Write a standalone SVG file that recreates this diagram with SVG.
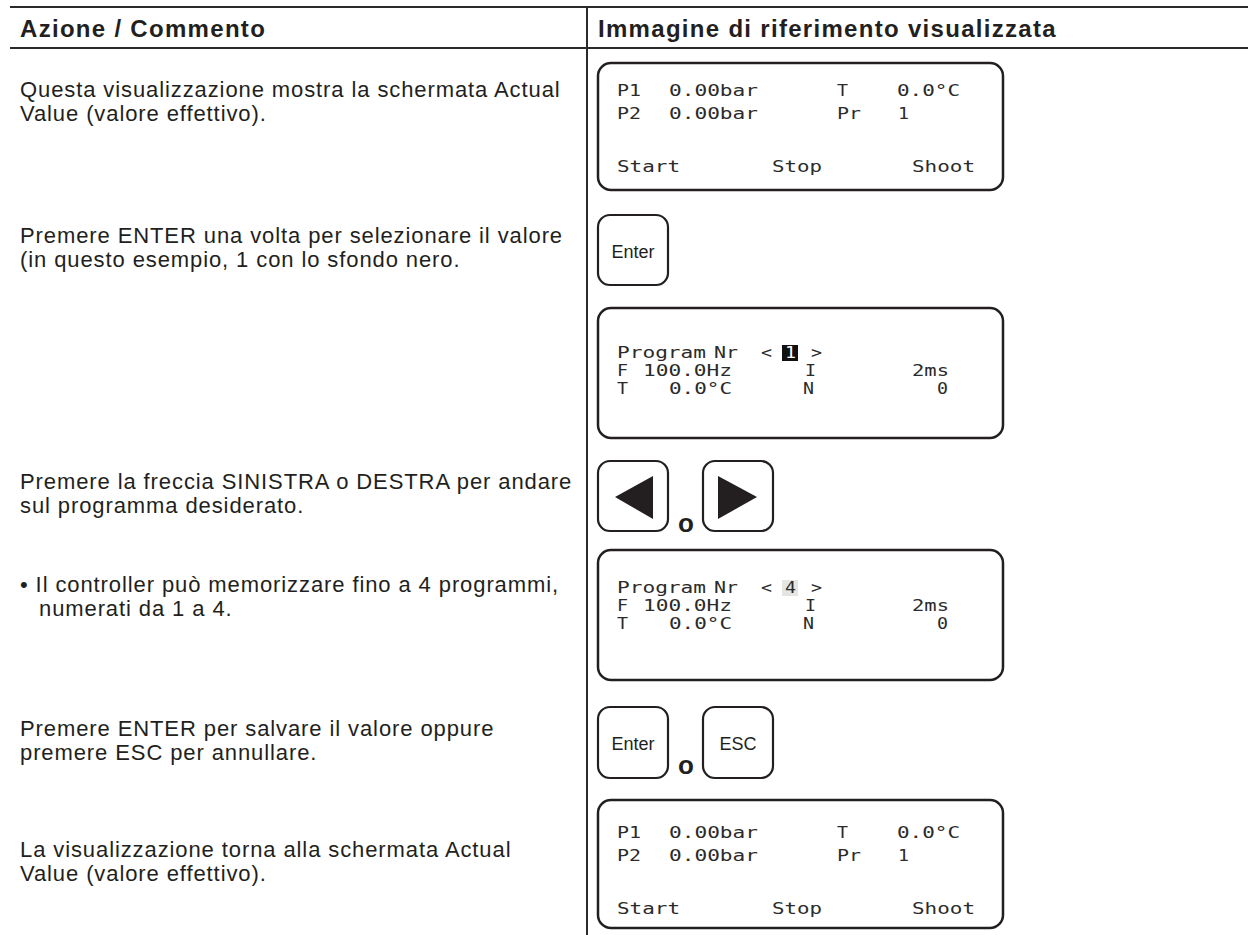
<svg xmlns="http://www.w3.org/2000/svg" width="1248" height="935" viewBox="0 0 1248 935">
  <style>
    .rule { stroke: #2b2b2b; stroke-width: 2; fill: none; }
    .head { font-family: "Liberation Sans", Arial, sans-serif; font-weight: bold; font-size: 24px; letter-spacing: 1.3px; fill: #231f20; }
    .body { font-family: "Liberation Sans", Arial, sans-serif; font-size: 22px; letter-spacing: 0.9px; fill: #231f20; }
    .lcd-frame { fill: #ffffff; stroke: #231f20; stroke-width: 2.5; }
    .key { fill: #ffffff; stroke: #231f20; stroke-width: 2.2; }
    .lcd { font-family: "DejaVu Sans Mono", "Liberation Mono", monospace; font-size: 15px; fill: #2b2b2b; }
    .keytxt { font-family: "Liberation Sans", Arial, sans-serif; font-size: 18px; fill: #231f20; text-anchor: middle; }
    .or { font-family: "Liberation Sans", Arial, sans-serif; font-weight: bold; font-size: 26px; fill: #231f20; text-anchor: middle; }
    .tri { fill: #231f20; }
  </style>

  <!-- table rules -->
  <g id="table">
    <line class="rule" x1="10" y1="7" x2="1248" y2="7"/>
    <line class="rule" x1="10" y1="48" x2="1248" y2="48"/>
    <line class="rule" x1="587" y1="7" x2="587" y2="935"/>
    <text class="head" x="20" y="37">Azione / Commento</text>
    <text class="head" x="598" y="37">Immagine di riferimento visualizzata</text>
  </g>

  <!-- left column: action / comment texts -->
  <g id="comments">
    <text class="body" x="20" y="97">Questa visualizzazione mostra la schermata Actual</text>
    <text class="body" x="20" y="121">Value (valore effettivo).</text>

    <text class="body" x="20" y="243">Premere ENTER una volta per selezionare il valore</text>
    <text class="body" x="20" y="267">(in questo esempio, 1 con lo sfondo nero.</text>

    <text class="body" x="20" y="489">Premere la freccia SINISTRA o DESTRA per andare</text>
    <text class="body" x="20" y="513">sul programma desiderato.</text>

    <text class="body" x="20" y="592">• Il controller può memorizzare fino a 4 programmi,</text>
    <text class="body" x="39" y="616">numerati da 1 a 4.</text>

    <text class="body" x="20" y="736">Premere ENTER per salvare il valore oppure</text>
    <text class="body" x="20" y="760">premere ESC per annullare.</text>

    <text class="body" x="20" y="857">La visualizzazione torna alla schermata Actual</text>
    <text class="body" x="20" y="881">Value (valore effettivo).</text>
  </g>

  <!-- display: actual value screen (LCD cells are 13px wide) -->
  <g id="display-actual-1">
    <rect class="lcd-frame" x="598" y="63" width="405" height="127" rx="13"/>
    <text class="lcd" x="617" y="96" textLength="24" lengthAdjust="spacingAndGlyphs">P1</text>
    <text class="lcd" x="669" y="96" textLength="89" lengthAdjust="spacingAndGlyphs">0.00bar</text>
    <text class="lcd" x="837" y="96" textLength="11" lengthAdjust="spacingAndGlyphs">T</text>
    <text class="lcd" x="897" y="96" textLength="63" lengthAdjust="spacingAndGlyphs">0.0°C</text>
    <text class="lcd" x="617" y="119" textLength="24" lengthAdjust="spacingAndGlyphs">P2</text>
    <text class="lcd" x="669" y="119" textLength="89" lengthAdjust="spacingAndGlyphs">0.00bar</text>
    <text class="lcd" x="837" y="119" textLength="24" lengthAdjust="spacingAndGlyphs">Pr</text>
    <text class="lcd" x="898" y="119" textLength="11" lengthAdjust="spacingAndGlyphs">1</text>
    <text class="lcd" x="617" y="172" textLength="63" lengthAdjust="spacingAndGlyphs">Start</text>
    <text class="lcd" x="772" y="172" textLength="50" lengthAdjust="spacingAndGlyphs">Stop</text>
    <text class="lcd" x="912" y="172" textLength="63" lengthAdjust="spacingAndGlyphs">Shoot</text>
  </g>

  <!-- Enter key -->
  <g id="key-enter-1">
    <rect class="key" x="598" y="215" width="70" height="70" rx="12"/>
    <text class="keytxt" x="633" y="258">Enter</text>
  </g>

  <!-- display: program number selected -->
  <g id="display-program-1">
    <rect class="lcd-frame" x="598" y="308" width="405" height="130" rx="13"/>
    <text class="lcd" x="617" y="358" textLength="89" lengthAdjust="spacingAndGlyphs">Program</text>
    <text class="lcd" x="714" y="358" textLength="24" lengthAdjust="spacingAndGlyphs">Nr</text>
    <text class="lcd" x="761" y="358" textLength="11" lengthAdjust="spacingAndGlyphs">&lt;</text>
    <rect x="782" y="345" width="16" height="16" fill="#111111"/>
    <text class="lcd" x="785" y="358" textLength="11" lengthAdjust="spacingAndGlyphs" style="fill:#ffffff">1</text>
    <text class="lcd" x="811" y="358" textLength="11" lengthAdjust="spacingAndGlyphs">&gt;</text>
    <text class="lcd" x="617" y="376" textLength="11" lengthAdjust="spacingAndGlyphs">F</text>
    <text class="lcd" x="643" y="376" textLength="89" lengthAdjust="spacingAndGlyphs">100.0Hz</text>
    <text class="lcd" x="805" y="376" textLength="11" lengthAdjust="spacingAndGlyphs">I</text>
    <text class="lcd" x="912" y="376" textLength="37" lengthAdjust="spacingAndGlyphs">2ms</text>
    <text class="lcd" x="617" y="394" textLength="11" lengthAdjust="spacingAndGlyphs">T</text>
    <text class="lcd" x="669" y="394" textLength="63" lengthAdjust="spacingAndGlyphs">0.0°C</text>
    <text class="lcd" x="803" y="394" textLength="11" lengthAdjust="spacingAndGlyphs">N</text>
    <text class="lcd" x="937" y="394" textLength="11" lengthAdjust="spacingAndGlyphs">0</text>
  </g>

  <!-- arrow keys -->
  <g id="key-left">
    <rect class="key" x="598" y="461" width="70" height="70" rx="12"/>
    <polygon class="tri" points="615,497 653,476 653,519"/>
  </g>
  <text class="or" x="686" y="532">o</text>
  <g id="key-right">
    <rect class="key" x="703" y="461" width="70" height="70" rx="12"/>
    <polygon class="tri" points="718,476 718,519 757,497"/>
  </g>

  <!-- display: program number changed -->
  <g id="display-program-2">
    <rect class="lcd-frame" x="598" y="550" width="405" height="130" rx="13"/>
    <text class="lcd" x="617" y="593" textLength="89" lengthAdjust="spacingAndGlyphs">Program</text>
    <text class="lcd" x="714" y="593" textLength="24" lengthAdjust="spacingAndGlyphs">Nr</text>
    <text class="lcd" x="761" y="593" textLength="11" lengthAdjust="spacingAndGlyphs">&lt;</text>
    <rect x="782" y="580" width="16" height="16" fill="#e4e6e3"/>
    <text class="lcd" x="785" y="593" textLength="11" lengthAdjust="spacingAndGlyphs">4</text>
    <text class="lcd" x="811" y="593" textLength="11" lengthAdjust="spacingAndGlyphs">&gt;</text>
    <text class="lcd" x="617" y="611" textLength="11" lengthAdjust="spacingAndGlyphs">F</text>
    <text class="lcd" x="643" y="611" textLength="89" lengthAdjust="spacingAndGlyphs">100.0Hz</text>
    <text class="lcd" x="805" y="611" textLength="11" lengthAdjust="spacingAndGlyphs">I</text>
    <text class="lcd" x="912" y="611" textLength="37" lengthAdjust="spacingAndGlyphs">2ms</text>
    <text class="lcd" x="617" y="629" textLength="11" lengthAdjust="spacingAndGlyphs">T</text>
    <text class="lcd" x="669" y="629" textLength="63" lengthAdjust="spacingAndGlyphs">0.0°C</text>
    <text class="lcd" x="803" y="629" textLength="11" lengthAdjust="spacingAndGlyphs">N</text>
    <text class="lcd" x="937" y="629" textLength="11" lengthAdjust="spacingAndGlyphs">0</text>
  </g>

  <!-- Enter / ESC keys -->
  <g id="key-enter-2">
    <rect class="key" x="598" y="707" width="70" height="71" rx="12"/>
    <text class="keytxt" x="633" y="750">Enter</text>
  </g>
  <text class="or" x="686" y="774">o</text>
  <g id="key-esc">
    <rect class="key" x="703" y="707" width="70" height="71" rx="12"/>
    <text class="keytxt" x="738" y="750">ESC</text>
  </g>

  <!-- display: back to actual value screen -->
  <g id="display-actual-2">
    <rect class="lcd-frame" x="598" y="800" width="405" height="128" rx="13"/>
    <text class="lcd" x="617" y="838" textLength="24" lengthAdjust="spacingAndGlyphs">P1</text>
    <text class="lcd" x="669" y="838" textLength="89" lengthAdjust="spacingAndGlyphs">0.00bar</text>
    <text class="lcd" x="837" y="838" textLength="11" lengthAdjust="spacingAndGlyphs">T</text>
    <text class="lcd" x="897" y="838" textLength="63" lengthAdjust="spacingAndGlyphs">0.0°C</text>
    <text class="lcd" x="617" y="861" textLength="24" lengthAdjust="spacingAndGlyphs">P2</text>
    <text class="lcd" x="669" y="861" textLength="89" lengthAdjust="spacingAndGlyphs">0.00bar</text>
    <text class="lcd" x="837" y="861" textLength="24" lengthAdjust="spacingAndGlyphs">Pr</text>
    <text class="lcd" x="898" y="861" textLength="11" lengthAdjust="spacingAndGlyphs">1</text>
    <text class="lcd" x="617" y="914" textLength="63" lengthAdjust="spacingAndGlyphs">Start</text>
    <text class="lcd" x="772" y="914" textLength="50" lengthAdjust="spacingAndGlyphs">Stop</text>
    <text class="lcd" x="912" y="914" textLength="63" lengthAdjust="spacingAndGlyphs">Shoot</text>
  </g>
</svg>
